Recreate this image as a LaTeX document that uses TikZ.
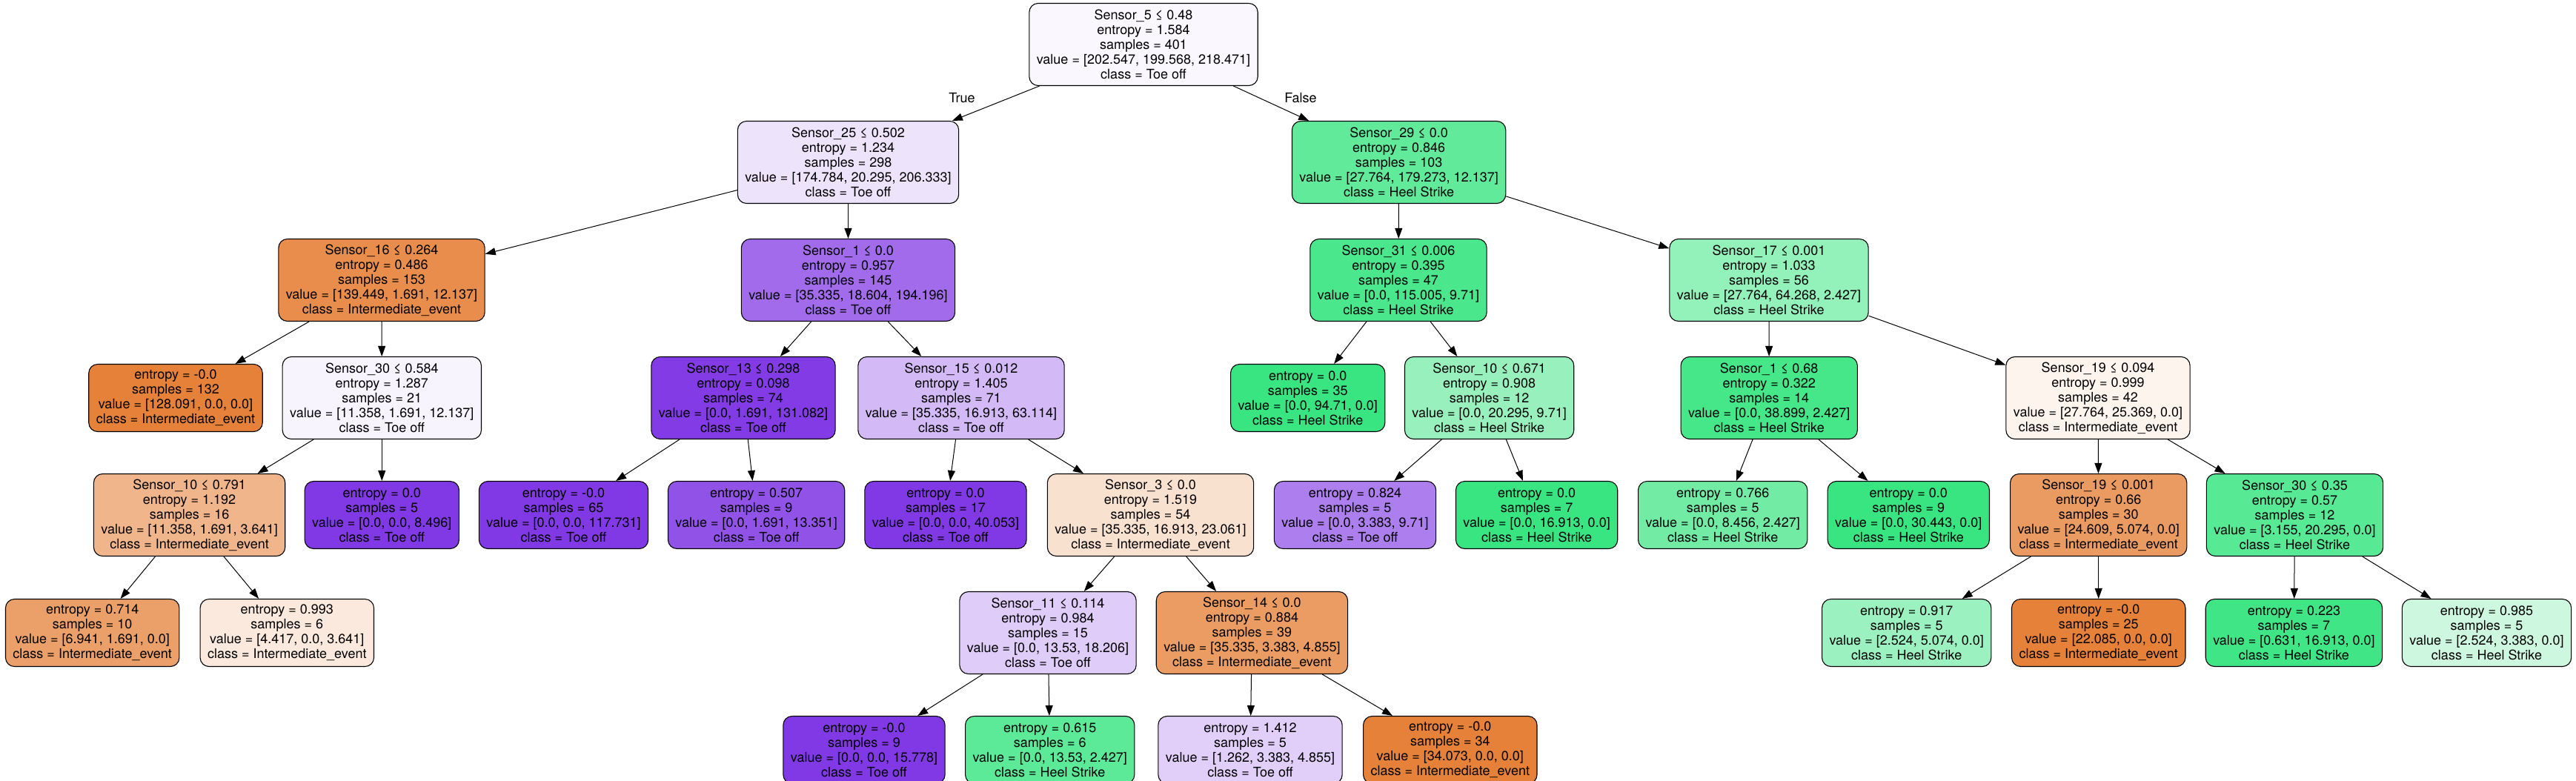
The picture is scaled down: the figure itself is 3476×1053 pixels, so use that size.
\documentclass[tikz,border=0pt]{standalone}
\usepackage{fontspec}
\setmainfont{TeX Gyre Heros}
\usetikzlibrary{arrows.meta}
\definecolor{inter}{RGB}{229,129,57}
\definecolor{heel}{RGB}{57,229,129}
\definecolor{toe}{RGB}{129,57,229}
\begin{document}
\begin{tikzpicture}[x=1pt,y=-1pt,font=\fontsize{18}{20}\selectfont,
    box/.style={draw=black,line width=1.1pt,rounded corners=12pt,align=center,inner xsep=10pt,inner ysep=0pt},
    split/.style={box,minimum height=111pt},
    leaf/.style={box,minimum height=91pt},
    link/.style={-{Triangle[length=14pt,width=10pt]},line width=1pt}]
  \useasboundingbox (0,0) rectangle (3476,1053);
  % depth 0 and 1
  \node[split,fill=toe!3.8] (root) at (1543,60) {Sensor\_5 ≤ 0.48\\entropy = 1.584\\samples = 401\\value = [202.547, 199.568, 218.471]\\class = Toe off};
  \node[split,fill=toe!13.9] (s25) at (1144.5,219) {Sensor\_25 ≤ 0.502\\entropy = 1.234\\samples = 298\\value = [174.784, 20.295, 206.333]\\class = Toe off};
  \node[split,fill=heel!79.2] (s29) at (1887.6,219) {Sensor\_29 ≤ 0.0\\entropy = 0.846\\samples = 103\\value = [27.764, 179.273, 12.137]\\class = Heel Strike};
  % depth 2
  \node[split,fill=inter!90.2] (s16) at (515,378) {Sensor\_16 ≤ 0.264\\entropy = 0.486\\samples = 153\\value = [139.449, 1.691, 12.137]\\class = Intermediate\_event};
  \node[split,fill=toe!74.7] (s1a) at (1144.5,378) {Sensor\_1 ≤ 0.0\\entropy = 0.957\\samples = 145\\value = [35.335, 18.604, 194.196]\\class = Toe off};
  \node[split,fill=heel!91.6] (s31) at (1887,378) {Sensor\_31 ≤ 0.006\\entropy = 0.395\\samples = 47\\value = [0.0, 115.005, 9.71]\\class = Heel Strike};
  \node[split,fill=heel!54.7] (s17) at (2387,378) {Sensor\_17 ≤ 0.001\\entropy = 1.033\\samples = 56\\value = [27.764, 64.268, 2.427]\\class = Heel Strike};
  % depth 3
  \node[leaf,fill=inter] (l132) at (237,537) {entropy = -0.0\\samples = 132\\value = [128.091, 0.0, 0.0]\\class = Intermediate\_event};
  \node[split,fill=toe!5.6] (s30a) at (515.3,537) {Sensor\_30 ≤ 0.584\\entropy = 1.287\\samples = 21\\value = [11.358, 1.691, 12.137]\\class = Toe off};
  \node[split,fill=toe!98.7] (s13) at (1003,537) {Sensor\_13 ≤ 0.298\\entropy = 0.098\\samples = 74\\value = [0.0, 1.691, 131.082]\\class = Toe off};
  \node[split,fill=toe!34.7] (s15) at (1297,537) {Sensor\_15 ≤ 0.012\\entropy = 1.405\\samples = 71\\value = [35.335, 16.913, 63.114]\\class = Toe off};
  \node[leaf,fill=heel] (l35) at (1764.7,537) {entropy = 0.0\\samples = 35\\value = [0.0, 94.71, 0.0]\\class = Heel Strike};
  \node[split,fill=heel!52.2] (s10b) at (2009.6,537) {Sensor\_10 ≤ 0.671\\entropy = 0.908\\samples = 12\\value = [0.0, 20.295, 9.71]\\class = Heel Strike};
  \node[split,fill=heel!93.8] (s1b) at (2387.2,537) {Sensor\_1 ≤ 0.68\\entropy = 0.322\\samples = 14\\value = [0.0, 38.899, 2.427]\\class = Heel Strike};
  \node[split,fill=inter!8.6] (s19a) at (2831,537) {Sensor\_19 ≤ 0.094\\entropy = 0.999\\samples = 42\\value = [27.764, 25.369, 0.0]\\class = Intermediate\_event};
  % depth 4
  \node[split,fill=inter!59.1] (s10a) at (255.6,695) {Sensor\_10 ≤ 0.791\\entropy = 1.192\\samples = 16\\value = [11.358, 1.691, 3.641]\\class = Intermediate\_event};
  \node[leaf,fill=toe] (l5) at (515.3,695) {entropy = 0.0\\samples = 5\\value = [0.0, 0.0, 8.496]\\class = Toe off};
  \node[leaf,fill=toe] (l65) at (760.5,695) {entropy = -0.0\\samples = 65\\value = [0.0, 0.0, 117.731]\\class = Toe off};
  \node[leaf,fill=toe!87.3] (l507) at (1020.6,695) {entropy = 0.507\\samples = 9\\value = [0.0, 1.691, 13.351]\\class = Toe off};
  \node[leaf,fill=toe] (l17) at (1276,695) {entropy = 0.0\\samples = 17\\value = [0.0, 0.0, 40.053]\\class = Toe off};
  \node[split,fill=inter!23.5] (s3) at (1552.5,695) {Sensor\_3 ≤ 0.0\\entropy = 1.519\\samples = 54\\value = [35.335, 16.913, 23.061]\\class = Intermediate\_event};
  \node[leaf,fill=toe!65.2] (l824) at (1828.5,695) {entropy = 0.824\\samples = 5\\value = [0.0, 3.383, 9.71]\\class = Toe off};
  \node[leaf,fill=heel] (l7) at (2073.6,695) {entropy = 0.0\\samples = 7\\value = [0.0, 16.913, 0.0]\\class = Heel Strike};
  \node[leaf,fill=heel!71.3] (l766) at (2324.7,695) {entropy = 0.766\\samples = 5\\value = [0.0, 8.456, 2.427]\\class = Heel Strike};
  \node[leaf,fill=heel] (l9b) at (2575.3,695) {entropy = 0.0\\samples = 9\\value = [0.0, 30.443, 0.0]\\class = Heel Strike};
  \node[split,fill=inter!79.4] (s19b) at (2831.7,695) {Sensor\_19 ≤ 0.001\\entropy = 0.66\\samples = 30\\value = [24.609, 5.074, 0.0]\\class = Intermediate\_event};
  \node[split,fill=heel!84.5] (s30b) at (3096.5,695) {Sensor\_30 ≤ 0.35\\entropy = 0.57\\samples = 12\\value = [3.155, 20.295, 0.0]\\class = Heel Strike};
  % depth 5
  \node[leaf,fill=inter!75.6] (l714) at (124.7,854) {entropy = 0.714\\samples = 10\\value = [6.941, 1.691, 0.0]\\class = Intermediate\_event};
  \node[leaf,fill=inter!17.6] (l993) at (387.3,854) {entropy = 0.993\\samples = 6\\value = [4.417, 0.0, 3.641]\\class = Intermediate\_event};
  \node[split,fill=toe!25.7] (s11) at (1414,854) {Sensor\_11 ≤ 0.114\\entropy = 0.984\\samples = 15\\value = [0.0, 13.53, 18.206]\\class = Toe off};
  \node[split,fill=inter!78.7] (s14) at (1689.4,854) {Sensor\_14 ≤ 0.0\\entropy = 0.884\\samples = 39\\value = [35.335, 3.383, 4.855]\\class = Intermediate\_event};
  \node[leaf,fill=heel!50.3] (l917) at (2572.7,854) {entropy = 0.917\\samples = 5\\value = [2.524, 5.074, 0.0]\\class = Heel Strike};
  \node[leaf,fill=inter] (l25) at (2831.7,854) {entropy = -0.0\\samples = 25\\value = [22.085, 0.0, 0.0]\\class = Intermediate\_event};
  \node[leaf,fill=heel!96.3] (l223) at (3095.4,854) {entropy = 0.223\\samples = 7\\value = [0.631, 16.913, 0.0]\\class = Heel Strike};
  \node[leaf,fill=heel!25.4] (l985) at (3355.5,854) {entropy = 0.985\\samples = 5\\value = [2.524, 3.383, 0.0]\\class = Heel Strike};
  % depth 6
  \node[leaf,fill=toe] (l9) at (1166,1012) {entropy = -0.0\\samples = 9\\value = [0.0, 0.0, 15.778]\\class = Toe off};
  \node[leaf,fill=heel!82.1] (l615) at (1416.7,1012) {entropy = 0.615\\samples = 6\\value = [0.0, 13.53, 2.427]\\class = Heel Strike};
  \node[leaf,fill=toe!24.1] (l1412) at (1687,1012) {entropy = 1.412\\samples = 5\\value = [1.262, 3.383, 4.855]\\class = Toe off};
  \node[leaf,fill=inter] (l34) at (1956.8,1012) {entropy = -0.0\\samples = 34\\value = [34.073, 0.0, 0.0]\\class = Intermediate\_event};
  % edges
  \foreach \a/\b in {root/s25,root/s29,s25/s16,s25/s1a,s29/s31,s29/s17,
      s16/l132,s16/s30a,s1a/s13,s1a/s15,s31/l35,s31/s10b,s17/s1b,s17/s19a,
      s30a/s10a,s30a/l5,s13/l65,s13/l507,s15/l17,s15/s3,s10b/l824,s10b/l7,
      s1b/l766,s1b/l9b,s19a/s19b,s19a/s30b,s10a/l714,s10a/l993,s3/s11,s3/s14,
      s19b/l917,s19b/l25,s30b/l223,s30b/l985,s11/l9,s11/l615,s14/l1412,s14/l34}
    \draw[link] (\a) -- (\b);
  \node (lbltrue) at (1298,131.7) {True};
  \node (lblfalse) at (1755,131.7) {False};
\end{tikzpicture}
\end{document}
